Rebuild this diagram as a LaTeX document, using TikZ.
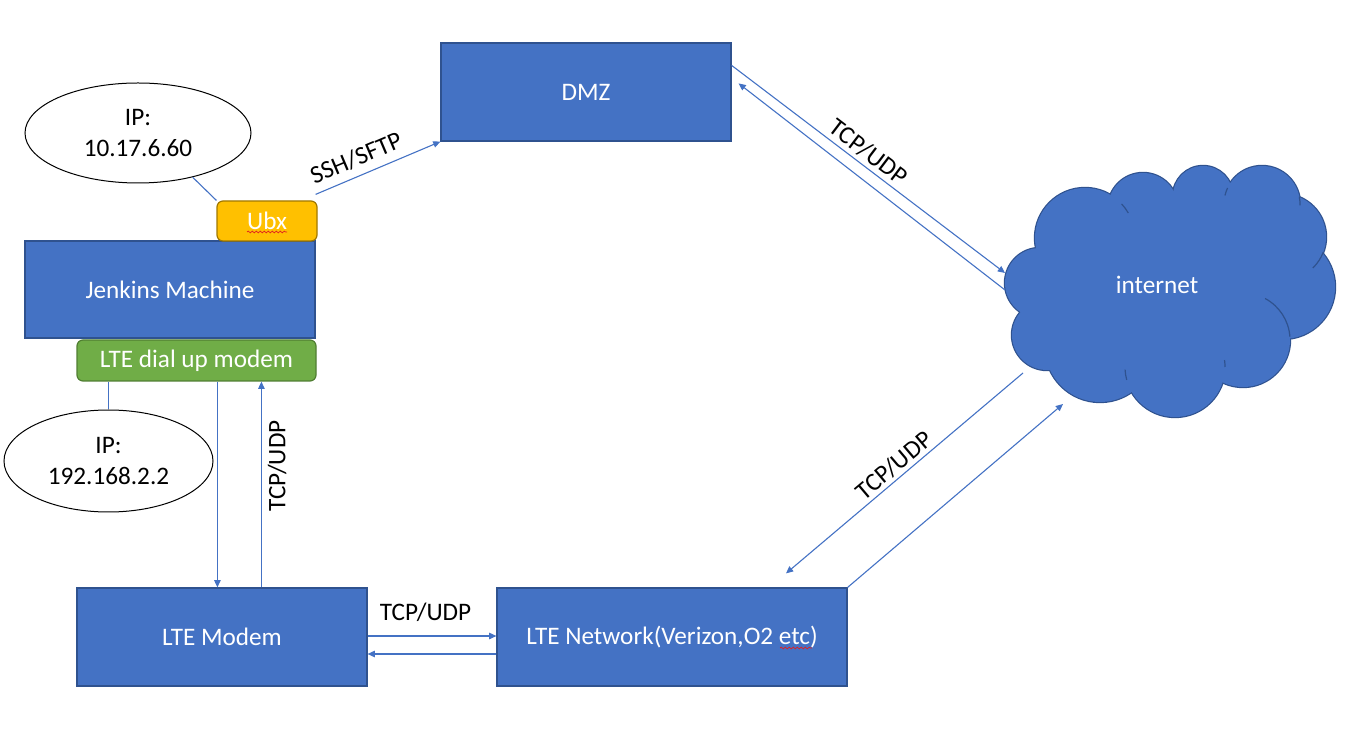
\documentclass[tikz,border=0pt]{standalone}
\usepackage{fontspec}
\setmainfont{Carlito}
\usetikzlibrary{arrows.meta,calc,shapes.geometric,decorations.pathmorphing}
\definecolor{boxblue}{HTML}{4472C4}
\definecolor{boxedge}{HTML}{2F528F}
\definecolor{ubxfill}{HTML}{FFC000}
\definecolor{ubxedge}{HTML}{A07800}
\definecolor{greenfill}{HTML}{70AD47}
\definecolor{greenedge}{HTML}{507E32}
\definecolor{spellred}{HTML}{E02020}

\begin{document}
\begin{tikzpicture}[x=0.5pt,y=-0.5pt,
  font=\fontsize{12.6pt}{15.5pt}\selectfont,
  bluebox/.style={draw=boxedge, fill=boxblue, line width=0.6pt, text=white,
    minimum width=145pt, minimum height=49pt, inner sep=0pt},
  tagbox/.style={rounded corners=3pt, line width=0.6pt, text=white, inner sep=0pt},
  ipbubble/.style={ellipse, draw=black, fill=white, line width=0.5pt,
    align=center, inner sep=0pt},
  arr/.style={draw=boxblue, line width=0.55pt, -{Triangle[length=3.6pt,width=3.2pt]}},
  link/.style={draw=boxblue, line width=0.55pt},
  lbl/.style={text=black, inner sep=0pt},
  puffmark/.style={draw=boxedge, line width=0.6pt},
  squiggle/.style={draw=spellred, line width=0.35pt, decorate,
    decoration={snake, amplitude=0.45pt, segment length=2pt}}
]
\useasboundingbox (0,0) rectangle (1358,747);

% boxes
\node[bluebox] (dmz) at (586,92) {DMZ};
\node[bluebox, minimum height=48.5pt] (jenkins) at (170,289.5) {Jenkins Machine};
\node[bluebox] (modem) at (222,637) {LTE Modem};
\node[bluebox, minimum width=175pt] (net) at (672,637) {LTE Network(Verizon,O2 etc)};
\node[tagbox, draw=ubxedge, fill=ubxfill, minimum width=50pt, minimum height=20pt] (ubx) at (267,221) {Ubx};
\node[tagbox, draw=greenedge, fill=greenfill, minimum width=119.5pt, minimum height=20.5pt] (dial) at (196.5,360.5) {LTE dial up modem};

% address bubbles
\node[ipbubble, minimum width=113pt, minimum height=50pt] (ip1) at (138,133) {IP:\\10.17.6.60};
\node[ipbubble, minimum width=104.5pt, minimum height=51pt] (ip2) at (108.5,461) {IP:\\192.168.2.2};

% cloud: union of puffs, outline first, then fill on top
\def\puffs{1040/283/35,1085/238/50,1143/208/35,1203/196/30,1262/204/38,
  1283/237/43,1283/287/52,1243/340/47,1175/367/50,1100/347/55,1047/335/35,
  1165/290/80,1100/290/50,1230/262/50}
\foreach \cx/\cy/\r in \puffs
  \draw[boxedge, line width=1.2pt] (\cx,\cy) circle[radius=\r];
\foreach \cx/\cy/\r in \puffs
  \fill[boxblue] (\cx,\cy) circle[radius=\r];
% inner puff creases
\draw[puffmark] ($(1085,238)+(-43:50)$) arc[start angle=-43, end angle=-30, radius=50];
\draw[puffmark] ($(1262,204)+(205:38)$) arc[start angle=205, end angle=193, radius=38];
\draw[puffmark] ($(1262,204)+(-11:38)$) arc[start angle=-11, end angle=2, radius=38];
\draw[puffmark] ($(1283,237)+(21:43)$) arc[start angle=21, end angle=46, radius=43];
\draw[puffmark] ($(1243,340)+(-62:47)$) arc[start angle=-62, end angle=-4, radius=47];
\draw[puffmark] ($(1175,367)+(0:50)$) arc[start angle=0, end angle=-8, radius=50];
\draw[puffmark] ($(1175,367)+(165:50)$) arc[start angle=165, end angle=177, radius=50];
\node[text=white] (inet) at (1157,285) {internet};

% points on the cloud edge
\coordinate (inA) at (1005,273);
\coordinate (inB) at (1005,290);
\coordinate (inC) at (1023,373);
\coordinate (inD) at (1063,404);

% bubble leaders
\draw[link] (ip1.-39) -- (ubx.north west);
\draw[link] (ip2.north) -- (ip2.north |- dial.south);

% connectors
\draw[arr] ($(ubx.north east)+(-2,-6)$) -- (dmz.south west)
  node[lbl, pos=0.38, above=4pt, sloped] {SSH/SFTP};
\draw[arr] ($(dmz.north east)+(0,23)$) -- (inA)
  node[lbl, pos=0.47, above=2pt, sloped] {TCP/UDP};
\draw[arr] (inB) -- ($(dmz.north east)+(7,41)$);
\draw[arr] (inC) -- ($(net.north)+(114,-14)$)
  node[lbl, pos=0.51, above=1.5pt, sloped] {TCP/UDP};
\draw[arr] (net.north east) -- (inD);
\draw[arr] ($(dial.south west)+(141,0)$) -- ($(modem.north west)+(141,0)$);
\draw[arr] ($(modem.north west)+(185,0)$) -- ($(dial.south west)+(185,0)$)
  node[lbl, pos=0.59, below=3pt, sloped] {TCP/UDP};
\draw[arr] ($(modem.east)+(0,-1)$) -- ($(net.west)+(0,-1)$)
  node[lbl, pos=0.45, above=7pt] {TCP/UDP};
\draw[arr] ($(net.west)+(0,17)$) -- ($(modem.east)+(0,17)$);

% spell-check marks
\draw[squiggle] ($(ubx.center)+(-20,11)$) -- ++(40,0);
\draw[squiggle] ($(net.center)+(108,11)$) -- ++(32,0);
\end{tikzpicture}
\end{document}
